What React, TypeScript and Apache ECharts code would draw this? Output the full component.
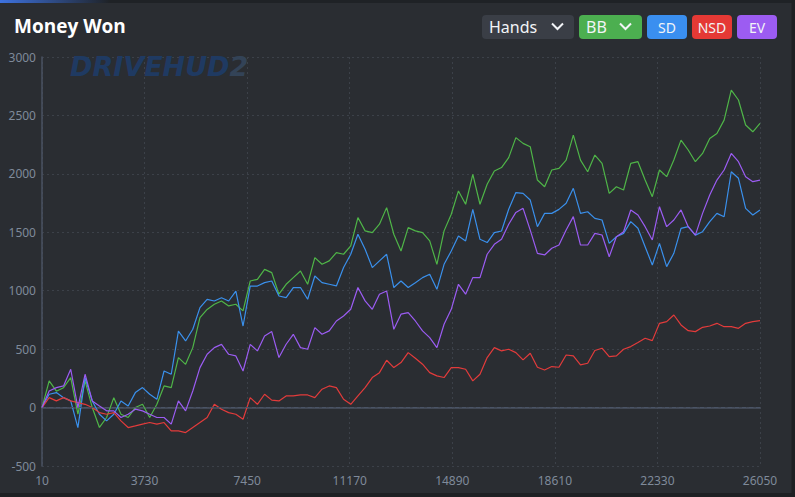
import React, { useEffect, useRef } from "react";
import * as echarts from "echarts";

const HAND_START = 10;
const HAND_STEP = 260.4;

const bbValues = [
  0, 228, 140, 170, 256, -57, 228, 0, -170, -85, 85, -57, -85, 0, 28, -85, 28, 185, 170, 427,
  370, 513, 770, 840, 884, 912, 870, 884, 827, 1083, 1097, 1183, 1155, 970, 1055, 1112, 1169, 1055, 1283, 1226,
  1255, 1326, 1312, 1383, 1626, 1512, 1497, 1569, 1711, 1483, 1340, 1540, 1512, 1497, 1426, 1226, 1512, 1654, 1854, 1740,
  1996, 1740, 1911, 2025, 2054, 2139, 2310, 2261, 2232, 1947, 1890, 2033, 2047, 2118, 2332, 2118, 2018, 2161, 2090, 1833,
  1890, 1862, 2090, 2104, 1947, 1805, 2033, 1976, 2118, 2289, 2204, 2104, 2175, 2303, 2346, 2460, 2717, 2632, 2418, 2360,
  2432,
];

const sdValues = [
  0, 114, 128, 85, 57, -171, 256, 57, -57, -114, -57, 57, 14, 128, 171, 114, 71, 313, 285, 655,
  570, 670, 855, 926, 912, 940, 912, 997, 698, 1040, 1040, 1069, 1083, 955, 941, 1027, 1027, 927, 1126, 1069,
  1055, 1041, 1198, 1312, 1483, 1355, 1198, 1255, 1312, 1027, 1083, 1027, 1069, 1112, 1141, 1012, 1226, 1340, 1469, 1426,
  1697, 1440, 1412, 1497, 1511, 1697, 1840, 1833, 1776, 1548, 1662, 1662, 1696, 1748, 1876, 1662, 1676, 1619, 1605, 1405,
  1462, 1491, 1591, 1534, 1377, 1220, 1405, 1206, 1320, 1534, 1548, 1476, 1505, 1591, 1662, 1633, 2018, 1962, 1705, 1648,
  1690,
];

const nsdValues = [
  0, 85, 57, 85, 57, 43, 28, 0, -43, -57, -43, -114, -171, -157, -142, -128, -142, -128, -200, -200,
  -214, -171, -128, -85, 28, -14, -43, -57, -100, 85, 28, 114, 64, 57, 100, 100, 108, 108, 85, 157,
  185, 171, 71, 28, 100, 171, 257, 299, 405, 342, 385, 470, 422, 371, 299, 271, 257, 342, 342, 328,
  228, 285, 428, 513, 485, 499, 470, 408, 465, 345, 322, 351, 345, 450, 442, 365, 379, 488, 508, 436,
  442, 499, 522, 556, 593, 573, 721, 735, 792, 707, 658, 650, 687, 698, 721, 692, 692, 678, 721, 735,
  744,
];

const evValues = [
  0, 142, 171, 185, 328, 0, 285, 57, 14, -28, -28, -85, -57, -14, -28, -57, -85, -85, -142, 57,
  -28, 142, 342, 456, 513, 541, 456, 442, 313, 541, 485, 612, 650, 428, 542, 627, 513, 499, 684, 627,
  656, 741, 784, 841, 1027, 913, 841, 970, 998, 670, 799, 813, 741, 656, 599, 513, 713, 841, 1055, 970,
  1112, 1112, 1312, 1397, 1440, 1569, 1670, 1705, 1519, 1320, 1306, 1363, 1391, 1519, 1634, 1391, 1391, 1491, 1477, 1291,
  1462, 1505, 1691, 1648, 1548, 1434, 1719, 1548, 1605, 1691, 1548, 1476, 1662, 1819, 1947, 2033, 2175, 2104, 1976, 1933,
  1947,
];

const X_MIN = 10;
const X_MAX = 26050;
const X_INTERVAL = 3720;
const Y_MIN = -500;
const Y_MAX = 3000;
const Y_INTERVAL = 500;

const seriesDefs = [
  { name: "BB", values: bbValues, color: "#4fb548" },
  { name: "SD", values: sdValues, color: "#3a90ec" },
  { name: "NSD", values: nsdValues, color: "#e23b3b" },
  { name: "EV", values: evValues, color: "#9b5cf2" },
];

const toPairs = (vals: number[]) => vals.map((v, i) => [HAND_START + i * HAND_STEP, v]);

export default function App() {
  const ref = useRef<HTMLDivElement>(null);
  useEffect(() => {
    if (!ref.current) return;
    const chart = echarts.init(ref.current, null, { renderer: "svg" });
    const font = "'Noto Sans', sans-serif";
    const btn = (x: number, w: number, fill: string) => ({
      type: "rect",
      shape: { x, y: 15, width: w, height: 24, r: 4 },
      style: { fill },
      z: 10,
    });
    const label = (x: number, text: string, align: string, size: number) => ({
      type: "text",
      x,
      y: 27,
      style: {
        text,
        fill: "#f2f4f7",
        font: `${size}px ${font}`,
        textAlign: align,
        textVerticalAlign: "middle",
      },
      z: 11,
    });
    const chevron = (x: number) => ({
      type: "polyline",
      shape: { points: [[x, 23.5], [x + 5.5, 29], [x + 11, 23.5]] },
      style: { stroke: "#f2f4f7", lineWidth: 2, fill: "none" },
      z: 11,
    });
    const plain = (v: number) => String(v);
    chart.setOption({
      animation: false,
      backgroundColor: "#2a2d32",
      title: {
        text: "Money Won",
        left: 14,
        top: 16,
        padding: 0,
        textStyle: { color: "#ffffff", fontSize: 19, fontWeight: 700, fontFamily: "'Open Sans', sans-serif" },
      },
      grid: { left: 42, right: 35, top: 57, bottom: 31, containLabel: false },
      xAxis: {
        type: "value",
        min: X_MIN,
        max: X_MAX,
        interval: X_INTERVAL,
        axisLine: { show: true, lineStyle: { color: "#4a5262", width: 1.5 } },
        axisTick: { show: false },
        axisLabel: { color: "#7f8a9a", fontSize: 12, fontFamily: font, margin: 8, formatter: plain },
        splitLine: { show: true, lineStyle: { color: "#3c4149", type: [2, 3] } },
      },
      yAxis: {
        type: "value",
        min: Y_MIN,
        max: Y_MAX,
        interval: Y_INTERVAL,
        axisLine: { show: true, lineStyle: { color: "#4a5262", width: 1.5 } },
        axisTick: { show: false },
        axisLabel: { color: "#7f8a9a", fontSize: 12, fontFamily: font, margin: 6, formatter: plain },
        splitLine: { show: true, lineStyle: { color: "#3c4149", type: [2, 3] } },
      },
      series: seriesDefs.map((s, idx) => ({
        name: s.name,
        type: "line",
        data: toPairs(s.values),
        showSymbol: false,
        symbol: "none",
        lineStyle: { color: s.color, width: 1.2 },
        itemStyle: { color: s.color },
        z: 2 + idx,
        markLine:
          idx === 0
            ? {
                silent: true,
                symbol: "none",
                label: { show: false },
                lineStyle: { color: "#4a5466", type: [4, 3], width: 1 },
                data: [{ yAxis: 0 }],
              }
            : undefined,
      })),
      graphic: [
        { type: "rect", shape: { x: 0, y: 0, width: 795, height: 3 }, style: { fill: "#1f2226" }, z: 5 },
        {
          type: "rect",
          shape: { x: 0, y: 0, width: 110, height: 3 },
          style: {
            fill: new echarts.graphic.LinearGradient(0, 0, 1, 0, [
              { offset: 0, color: "#3d72e0" },
              { offset: 1, color: "rgba(61,114,224,0)" },
            ]),
          },
          z: 6,
        },
        { type: "rect", shape: { x: 791.5, y: 0, width: 4, height: 497 }, style: { fill: "#1e2023" }, z: 5 },
        { type: "rect", shape: { x: 0, y: 493, width: 795, height: 4 }, style: { fill: "#1e2023" }, z: 5 },
        {
          type: "text",
          x: 70,
          y: 66,
          style: {
            text: "{a|DRIVEHUD}{b|2}",
            textVerticalAlign: "middle",
            rich: {
              a: { fill: "#1f3a62", font: `italic 900 27px 'DejaVu Sans', sans-serif` },
              b: { fill: "#334357", font: `italic 900 27px 'DejaVu Sans', sans-serif` },
            },
          },
          z: 1,
        },
        btn(482, 92, "#3a3e46"),
        label(489, "Hands", "left", 16),
        chevron(552),
        btn(579, 63, "#4caf50"),
        label(586, "BB", "left", 16),
        chevron(620),
        btn(647, 40, "#3a8ff0"),
        label(667, "SD", "center", 14),
        btn(692, 40, "#e53935"),
        label(712, "NSD", "center", 14),
        btn(737, 40, "#9c5cf2"),
        label(757, "EV", "center", 14),
      ],
    });
    return () => chart.dispose();
  }, []);
  return (
    <div
      ref={ref}
      style={{ position: "absolute", left: 0, top: 0, width: 795, height: 497 }}
    />
  );
}
